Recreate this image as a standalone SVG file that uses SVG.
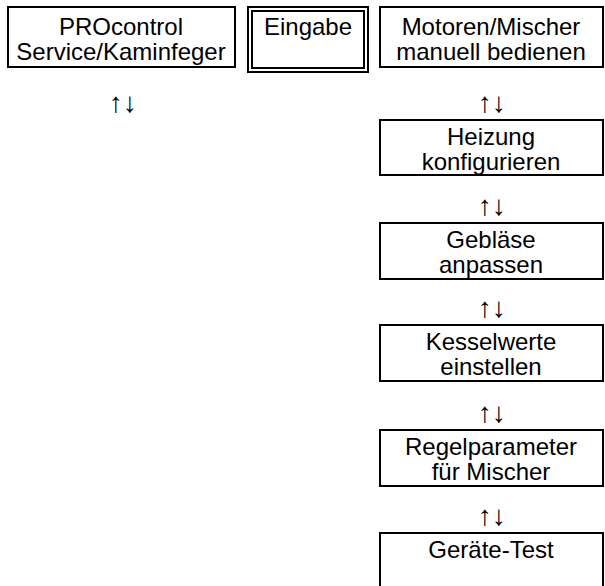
<svg xmlns="http://www.w3.org/2000/svg" width="605" height="586" viewBox="0 0 605 586">
<style>
.box{fill:#fff;stroke:#000;stroke-width:2}
.t{font-family:"Liberation Sans",Arial,sans-serif;font-size:24px;fill:#000;text-anchor:middle}
.arr{font-family:"Liberation Sans","DejaVu Sans",sans-serif;font-size:28px;fill:#000;text-anchor:middle}
</style>
<rect width="605" height="586" fill="#fff"/>
<g id="connectors">
<text class="arr" x="123" y="112">↑↓</text>
<text class="arr" x="492" y="112">↑↓</text>
<text class="arr" x="492" y="215">↑↓</text>
<text class="arr" x="492" y="317">↑↓</text>
<text class="arr" x="492" y="422">↑↓</text>
<text class="arr" x="492" y="525">↑↓</text>
</g>
<g id="n_procontrol">
<rect class="box" x="8" y="7" width="227" height="60"/>
<text class="t" x="121" y="35">PROcontrol</text>
<text class="t" x="121" y="60">Service/Kaminfeger</text>
</g>
<g id="n_eingabe">
<rect class="box" x="248" y="7" width="120" height="65"/>
<rect class="box" x="252" y="11" width="112" height="57"/>
<text class="t" x="308" y="35">Eingabe</text>
</g>
<g id="n_motoren">
<rect class="box" x="380" y="7" width="223" height="60"/>
<text class="t" x="491" y="35">Motoren/Mischer</text>
<text class="t" x="491" y="60">manuell bedienen</text>
</g>
<g id="n_heizung">
<rect class="box" x="380" y="120" width="223" height="55"/>
<text class="t" x="491" y="145">Heizung</text>
<text class="t" x="491" y="170">konfigurieren</text>
</g>
<g id="n_geblaese">
<rect class="box" x="380" y="223" width="223" height="56"/>
<text class="t" x="491" y="248">Gebläse</text>
<text class="t" x="491" y="273">anpassen</text>
</g>
<g id="n_kessel">
<rect class="box" x="380" y="325" width="223" height="56"/>
<text class="t" x="491" y="350">Kesselwerte</text>
<text class="t" x="491" y="375">einstellen</text>
</g>
<g id="n_regel">
<rect class="box" x="380" y="430" width="223" height="56"/>
<text class="t" x="491" y="455">Regelparameter</text>
<text class="t" x="491" y="480">für Mischer</text>
</g>
<g id="n_geraete">
<rect class="box" x="380" y="533" width="223" height="60"/>
<text class="t" x="491" y="558">Geräte-Test</text>
</g>
</svg>
